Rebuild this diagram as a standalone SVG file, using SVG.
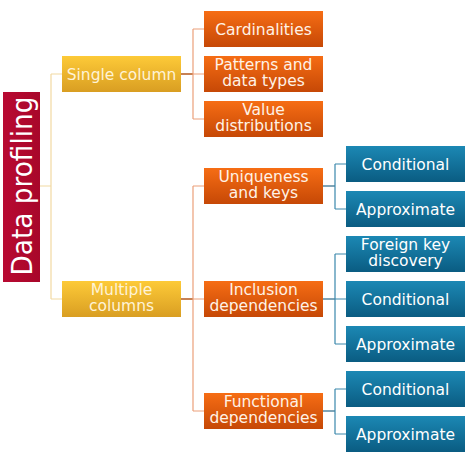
<svg xmlns="http://www.w3.org/2000/svg" width="471" height="456" viewBox="0 0 471 456">
<defs>
<linearGradient id="gGold" x1="0" y1="0" x2="0" y2="1"><stop offset="0" stop-color="#fdca38"/><stop offset="1" stop-color="#d99e22"/></linearGradient>
<linearGradient id="gOrange" x1="0" y1="0" x2="0" y2="1"><stop offset="0" stop-color="#f66d14"/><stop offset="1" stop-color="#c64806"/></linearGradient>
<linearGradient id="gBlue" x1="0" y1="0" x2="0" y2="1"><stop offset="0" stop-color="#1c88b4"/><stop offset="1" stop-color="#0a5c82"/></linearGradient>
<linearGradient id="gRed" x1="0" y1="0" x2="1" y2="0"><stop offset="0" stop-color="#b80a32"/><stop offset="1" stop-color="#a8072a"/></linearGradient>
<style>
text{font-family:"DejaVu Sans","Verdana",sans-serif;font-size:15.5px;text-anchor:middle}
.gold{fill:url(#gGold)}
.orange{fill:url(#gOrange)}
.blue{fill:url(#gBlue)}
.tg{fill:#fff3d6}
.to{fill:#fff2e6}
.tb{fill:#ffffff}
.c{fill:none}
.cy{stroke:#f2d9a2;stroke-width:1.2}
.cod{stroke:#b9622a;stroke-width:1.6}
.col{stroke:#eba07a;stroke-width:1.2}
.cbd{stroke:#5f8ea6;stroke-width:1.6}
.cbl{stroke:#3a88ac;stroke-width:1.2}
</style>
</defs>
<rect width="471" height="456" fill="#ffffff"/>
<g id="connectors" class="c">
<path class="cy" d="M40,186H51M51,74V299M51,74H62M51,299H62"/>
<path class="cod" d="M181,74H193"/>
<path class="col" d="M193,29V119M193,29H204M193,74H204M193,119H204"/>
<path class="cod" d="M181,299H193"/>
<path class="col" d="M193,186V411M193,186H204M193,299H204M193,411H204"/>
<path class="cbd" d="M323,186H335"/>
<path class="cbl" d="M335,164V209M335,164H346M335,209H346"/>
<path class="cbd" d="M323,299H335"/>
<path class="cbl" d="M335,254V344M335,254H346M335,299H346M335,344H346"/>
<path class="cbd" d="M323,411H335"/>
<path class="cbl" d="M335,389V434M335,389H346M335,434H346"/>
</g>
<g id="data-profiling">
<rect x="3" y="92" width="37" height="190" fill="url(#gRed)"/>
<text transform="translate(32,186) rotate(-90)" x="0" y="0" style="font-size:29px" fill="#ffffff" textLength="179" lengthAdjust="spacingAndGlyphs">Data profiling</text>
</g>
<g id="single-column">
<rect class="gold" x="62" y="56" width="119" height="36"/>
<text class="tg" x="121.5" y="79.7">Single column</text>
</g>
<g id="multiple-columns">
<rect class="gold" x="62" y="281" width="119" height="36"/>
<text class="tg" x="121.5" y="294.7">Multiple</text>
<text class="tg" x="121.5" y="310.7">columns</text>
</g>
<g id="cardinalities">
<rect class="orange" x="204" y="11" width="119" height="36"/>
<text class="to" x="263.5" y="34.7">Cardinalities</text>
</g>
<g id="patterns">
<rect class="orange" x="204" y="56" width="119" height="36"/>
<text class="to" x="263.5" y="69.7">Patterns and</text>
<text class="to" x="263.5" y="85.7">data types</text>
</g>
<g id="value-distributions">
<rect class="orange" x="204" y="101" width="119" height="36"/>
<text class="to" x="263.5" y="114.7">Value</text>
<text class="to" x="263.5" y="130.7">distributions</text>
</g>
<g id="uniqueness">
<rect class="orange" x="204" y="168" width="119" height="36"/>
<text class="to" x="263.5" y="181.7">Uniqueness</text>
<text class="to" x="263.5" y="197.7">and keys</text>
</g>
<g id="inclusion">
<rect class="orange" x="204" y="281" width="119" height="36"/>
<text class="to" x="263.5" y="294.7">Inclusion</text>
<text class="to" x="263.5" y="310.7">dependencies</text>
</g>
<g id="functional">
<rect class="orange" x="204" y="393" width="119" height="36"/>
<text class="to" x="263.5" y="406.7">Functional</text>
<text class="to" x="263.5" y="422.7">dependencies</text>
</g>
<g id="uniq-conditional">
<rect class="blue" x="346" y="146" width="119" height="36"/>
<text class="tb" x="405.5" y="169.7">Conditional</text>
</g>
<g id="uniq-approximate">
<rect class="blue" x="346" y="191" width="119" height="36"/>
<text class="tb" x="405.5" y="214.7">Approximate</text>
</g>
<g id="incl-foreign-key">
<rect class="blue" x="346" y="236" width="119" height="36"/>
<text class="tb" x="405.5" y="249.7">Foreign key</text>
<text class="tb" x="405.5" y="265.7">discovery</text>
</g>
<g id="incl-conditional">
<rect class="blue" x="346" y="281" width="119" height="36"/>
<text class="tb" x="405.5" y="304.7">Conditional</text>
</g>
<g id="incl-approximate">
<rect class="blue" x="346" y="326" width="119" height="36"/>
<text class="tb" x="405.5" y="349.7">Approximate</text>
</g>
<g id="func-conditional">
<rect class="blue" x="346" y="371" width="119" height="36"/>
<text class="tb" x="405.5" y="394.7">Conditional</text>
</g>
<g id="func-approximate">
<rect class="blue" x="346" y="416" width="119" height="36"/>
<text class="tb" x="405.5" y="439.7">Approximate</text>
</g>
</svg>
